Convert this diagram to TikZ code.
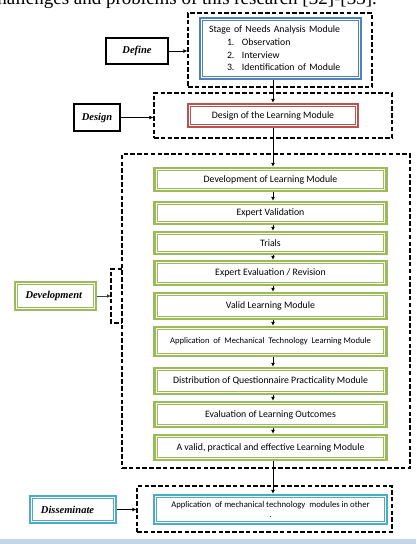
\documentclass[tikz,border=0pt]{standalone}
\usepackage{fontspec}
\setmainfont{Liberation Serif}
\newfontfamily\boxfont{Carlito}
\usetikzlibrary{arrows.meta}
\definecolor{wblue}{HTML}{4F81BD}
\definecolor{wred}{HTML}{C0504D}
\definecolor{wgreen}{HTML}{9BBB59}
\definecolor{waqua}{HTML}{4BACC6}
\definecolor{bandcol}{HTML}{C3D5E8}
\tikzset{
  wordbox/.style={draw=#1, line width=2.4pt, fill=white, inner sep=0pt,
    path picture={\draw[#1, line width=0.8pt]
      ([shift={(2.7pt,-2.7pt)}]path picture bounding box.north west) rectangle
      ([shift={(-2.7pt,2.7pt)}]path picture bounding box.south east);}},
  gbox/.style={wordbox=wgreen, minimum width=232pt, align=center,
    font=\boxfont\fontsize{9.8}{12}\selectfont},
  dashline/.style={draw=black, line width=1.3pt, dash pattern=on 4.5pt off 2.3pt},
  dashbox/.style={dashline, inner sep=0pt},
  blackbox/.style={draw=black, line width=1.6pt, fill=white, inner sep=0pt,
    font=\fontsize{10.5}{12}\selectfont\bfseries\itshape},
  labfont/.style={font=\fontsize{10.5}{12}\selectfont\bfseries\itshape},
  arr/.style={draw=black, line width=0.8pt, -{Latex[length=4pt,width=4pt]}},
}
\begin{document}
\begin{tikzpicture}[x=1pt,y=-1pt]
\useasboundingbox (0,0) rectangle (416,544);
\begin{scope}
\clip (0,0) rectangle (416,544);
\node[anchor=base east, inner sep=0pt, font=\fontsize{19}{22}\selectfont] (toptext) at (377,4.5) {challenges and problems of this research [32]-[33].};
\fill[bandcol] (0,539) rectangle (416,544);
\end{scope}

% dashed containers
\node[dashbox, minimum width=184pt, minimum height=74pt] (defdash) at (280,50) {};
\node[dashbox, minimum width=238pt, minimum height=45pt] (desdash) at (273,115.5) {};
\node[dashbox, minimum width=288pt, minimum height=314pt] (devdash) at (266,311) {};
\node[dashbox, minimum width=255pt, minimum height=46pt] (disdash) at (264.5,509) {};
\draw[dashline] (122,269) -- (111,269) -- (111,323) -- (122,323);
\coordinate (brk) at (111,297);

% Define
\node[blackbox, minimum width=62pt, minimum height=26pt] (define) at (137,51) {Define};
\node[wordbox=wblue, minimum width=161pt, minimum height=61pt, text width=143pt, align=left,
  font=\boxfont\fontsize{9.8}{12.6}\selectfont] (needs) at (280.5,48.5)
  {Stage of Needs Analysis Module\\
   \hspace*{18pt}\makebox[15pt][l]{1.}Observation\\
   \hspace*{18pt}\makebox[15pt][l]{2.}Interview\\
   \hspace*{18pt}\makebox[15pt][l]{3.}Identification of Module};
\draw[arr] (define.east) -- (define.east -| defdash.west);

% Design
\node[blackbox, minimum width=46pt, minimum height=27pt] (deslab) at (97,117.5) {Design};
\node[wordbox=wred, minimum width=170pt, minimum height=23pt,
  font=\boxfont\fontsize{9.8}{12}\selectfont] (design) at (273,115.5) {Design of the Learning Module};
\draw[arr] (deslab.east) -- (deslab.east -| desdash.west);
\draw[arr] (needs.south -| design) -- (design.north);

% Development
\node[gbox, minimum height=23pt] (g1) at (270.5,179.5) {Development of Learning Module};
\node[gbox, minimum height=22pt] (g2) at (270.5,213) {Expert Validation};
\node[gbox, minimum height=22pt] (g3) at (270.5,243) {Trials};
\node[gbox, minimum height=24pt] (g4) at (270.5,273) {Expert Evaluation / Revision};
\node[gbox, minimum height=26pt] (g5) at (270.5,306) {Valid Learning Module};
\node[gbox, minimum height=29pt, font=\boxfont\fontsize{8.6}{11}\selectfont] (g6) at (270.5,341.5)
  {Application~ of~ Mechanical~ Technology~ Learning Module};
\node[gbox, minimum height=26pt] (g7) at (270.5,381) {Distribution of Questionnaire Practicality Module};
\node[gbox, minimum height=25pt] (g8) at (270.5,414.5) {Evaluation of Learning Outcomes};
\node[gbox, minimum height=25pt] (g9) at (270.5,447.5) {A valid, practical and effective Learning Module};
\draw[arr] (design.south) -- (g1.north -| design);
\foreach \a/\b in {g1/g2,g2/g3,g3/g4,g4/g5,g5/g6,g6/g7,g7/g8,g8/g9}
  \draw[arr] (\a.south -| design) -- (\b.north -| design);

\node[wordbox=wgreen, minimum width=81pt, minimum height=28pt, text width=60pt, align=left,
  labfont] (devlab) at (55.5,296) {Development};
\draw[arr, draw=black!75] (devlab.east) -- (devlab.east -| brk);

% Disseminate
\node[wordbox=waqua, minimum width=86pt, minimum height=27pt, text width=64pt, align=left,
  labfont] (dislab) at (73,509.5) {Disseminate};
\node[wordbox=waqua, minimum width=233pt, minimum height=29pt, align=center,
  font=\boxfont\fontsize{8.7}{10}\selectfont] (app) at (270.5,509.5)
  {Application~ of mechanical technology~ modules in other\\.};
\draw[arr] (dislab.east) -- (dislab.east -| disdash.west);
\draw[arr] (g9.south -| design) -- (app.north -| design);
\end{tikzpicture}
\end{document}
